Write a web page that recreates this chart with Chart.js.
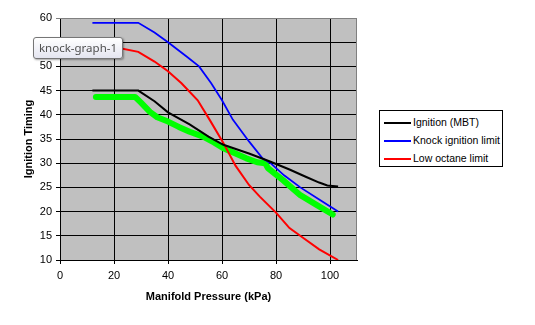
<!DOCTYPE html>
<html lang="en">
<head>
    <meta charset="UTF-8">
    <title>Ignition timing vs manifold pressure</title>
    <script src="https://cdn.jsdelivr.net/npm/chart.js"></script>
    <style>
        body { margin: 0; background: #fff; font-family: "Liberation Sans", Arial, sans-serif; }
        .wrap { position: relative; width: 535px; height: 325px; }
        .legend {
            position: absolute; left: 379px; top: 110px; width: 122px; height: 55px;
            border: 1px solid #000; background: #fff; font-size: 10.5px;
        }
        .legend div { position: absolute; left: 4px; height: 14px; line-height: 14px; white-space: nowrap; }
        .legend span.swatch { display: inline-block; width: 27px; height: 2px; vertical-align: middle; margin-right: 2px; }
        .tip {
            position: absolute; left: 33px; top: 37px; width: 88px; height: 20px;
            border: 1px solid #767676; border-radius: 3px;
            background: linear-gradient(#ffffff, #e4e5f0);
            box-shadow: 1px 1px 2px rgba(0,0,0,0.35);
            font: 11.5px "Noto Sans", "Open Sans", sans-serif; color: #505050;
            line-height: 20px; text-align: center;
        }
    </style>
</head>
<body>
<div class="wrap">
    <canvas id="ignitionChart"></canvas>
    <div class="legend" id="legend"></div>
    <div class="tip">knock-graph-1</div>
</div>
<script>
    // Ignition (MBT)
    const mbtKpa = [12, 29, 35, 40, 48, 55, 60.5, 70, 78, 85, 91, 96, 99, 103];
    const mbtDeg = [45, 45, 42.8, 40.5, 38, 35.5, 33.8, 32, 30.3, 28.7, 27.2, 26, 25.4, 25.2];

    // Knock ignition limit
    const knockKpa = [12, 29, 35, 40, 47, 51.5, 56, 60, 64, 70, 75, 78, 83, 89, 96, 103];
    const knockDeg = [59, 59, 57, 55, 52, 50, 46.5, 43, 39, 34.5, 31, 30, 27.5, 25, 22.5, 20];

    // Low octane limit
    const octaneKpa = [12, 20, 29, 35, 40, 45, 51, 55.5, 60.5, 65, 70, 74, 80, 85, 90, 96, 103];
    const octaneDeg = [55, 54, 53, 51, 49, 46.5, 43, 38.9, 34.2, 29.5, 25.5, 23.1, 19.8, 16.6, 14.6, 12.2, 10];

    // hand-drawn fit (green marker)
    const fitKpa = [13.3, 27.8, 30, 33.3, 36, 40, 44, 48, 53, 57, 60.5, 65, 69, 73, 76, 77, 82.6, 89, 95, 101];
    const fitDeg = [43.7, 43.7, 42.5, 40.6, 39.5, 38.6, 37.5, 36.5, 35.5, 34.3, 33.1, 32, 31, 30.2, 30, 29, 26.5, 23.4, 21.4, 19.4];

    const xTicks = [0, 20, 40, 60, 80, 100];

    const seriesNames = ['Ignition (MBT)', 'Knock ignition limit', 'Low octane limit'];
    const seriesColors = ['#000000', '#0000ff', '#ff0000'];

    function pts(xs, ys) {
        return xs.map((x, i) => ({ x: x, y: ys[i] }));
    }

    const font = { family: '"Liberation Sans", Arial, sans-serif', size: 11 };

    // grey plot area with a grey frame on top/right
    const plotArea = {
        id: 'plotArea',
        beforeDraw(chart) {
            const { ctx, chartArea: a } = chart;
            ctx.save();
            ctx.fillStyle = '#c0c0c0';
            ctx.fillRect(a.left, a.top, a.right - a.left, a.bottom - a.top);
            ctx.restore();
        },
        beforeDatasetsDraw(chart) {
            const { ctx, chartArea: a } = chart;
            ctx.save();
            ctx.strokeStyle = '#808080';
            ctx.lineWidth = 1;
            ctx.beginPath();
            ctx.moveTo(a.left, a.top + 0.5);
            ctx.lineTo(a.right - 0.5, a.top + 0.5);
            ctx.lineTo(a.right - 0.5, a.bottom);
            ctx.stroke();
            ctx.restore();
        }
    };

    const ctx = document.getElementById('ignitionChart').getContext('2d');
    const chart = new Chart(ctx, {
        type: 'line',
        data: {
            datasets: [
                { label: seriesNames[0], data: pts(mbtKpa, mbtDeg), borderColor: seriesColors[0], borderWidth: 2 },
                { label: seriesNames[1], data: pts(knockKpa, knockDeg), borderColor: seriesColors[1], borderWidth: 1.75 },
                { label: seriesNames[2], data: pts(octaneKpa, octaneDeg), borderColor: seriesColors[2], borderWidth: 2 },
                { label: 'fit', data: pts(fitKpa, fitDeg), borderColor: '#00ff00', borderWidth: 6,
                  borderCapStyle: 'round', borderJoinStyle: 'round', order: 1 }
            ]
        },
        options: {
            responsive: true,
            maintainAspectRatio: false,
            animation: false,
            elements: { point: { radius: 0 }, line: { tension: 0, fill: false } },
            layout: { padding: { left: 0, top: 18, right: 178, bottom: 0 } },
            plugins: { legend: { display: false }, tooltip: { enabled: false } },
            scales: {
                x: {
                    type: 'linear',
                    min: 0,
                    max: 110,
                    afterBuildTicks: s => { s.ticks = xTicks.map(v => ({ value: v })); },
                    afterFit: s => { s.height = 65; },
                    grid: { color: '#000', lineWidth: 1, tickLength: 4 },
                    border: { color: '#000', width: 1 },
                    ticks: { color: '#000', font: font, padding: 5, maxRotation: 0 },
                    title: {
                        display: true, text: 'Manifold Pressure (kPa)', color: '#000',
                        font: { family: font.family, size: 11, weight: 'bold' },
                        padding: { top: 0, bottom: 21 }
                    }
                },
                y: {
                    min: 10,
                    max: 60,
                    afterFit: s => { s.width = 60; },
                    grid: {
                        color: c => (c.tick && c.tick.value === 60 ? '#808080' : '#000'),
                        lineWidth: 1, tickLength: 4
                    },
                    border: { color: '#000', width: 1 },
                    ticks: { color: '#000', font: font, padding: 4, stepSize: 5 },
                    title: {
                        display: true, text: 'Ignition Timing', color: '#000',
                        font: { family: font.family, size: 11, weight: 'bold' },
                        padding: { top: 22, bottom: 0 }
                    }
                }
            }
        },
        plugins: [plotArea]
    });

    // legend box on the right
    const legend = document.getElementById('legend');
    seriesNames.forEach((name, i) => {
        const row = document.createElement('div');
        row.style.top = (4 + i * 18) + 'px';
        row.innerHTML = '<span class="swatch" style="background:' + seriesColors[i] + '"></span>' + name;
        legend.appendChild(row);
    });
</script>
</body>
</html>
